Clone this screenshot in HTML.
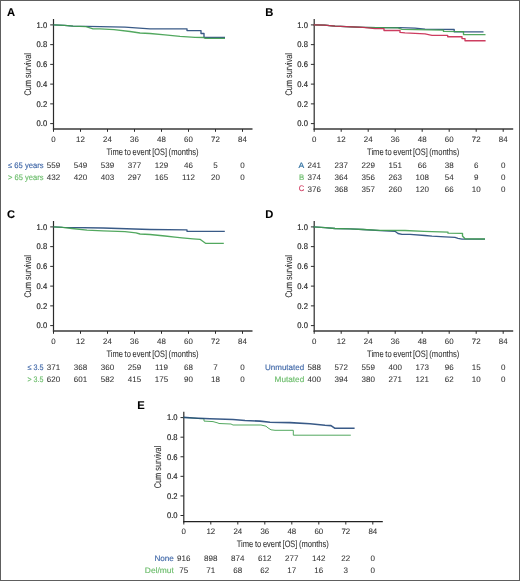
<!DOCTYPE html>
<html><head><meta charset="utf-8"><style>
html,body{margin:0;padding:0;background:#fff;}
svg{display:block;will-change:transform;}
text{font-family:"Liberation Sans", sans-serif;text-rendering:geometricPrecision;}
</style></head><body>
<svg width="520" height="581" viewBox="0 0 520 581">
<rect x="0" y="0" width="520" height="581" fill="#fff"/>
<g transform="translate(0,0)">
<text x="7" y="16.4" font-size="11.2" font-weight="bold" fill="#000" stroke="#000" stroke-width="0.1">A</text>
<line x1="53.5" y1="19" x2="53.5" y2="129.7" stroke="#2b2b2b" stroke-width="1.2"/>
<line x1="50.2" y1="24.90" x2="53.5" y2="24.90" stroke="#2b2b2b" stroke-width="1"/>
<text x="47.2" y="27.70" font-size="8.3" text-anchor="end" fill="#262626" stroke="#262626" stroke-width="0.18" textLength="10.6" lengthAdjust="spacingAndGlyphs">1.0</text>
<line x1="50.2" y1="44.64" x2="53.5" y2="44.64" stroke="#2b2b2b" stroke-width="1"/>
<text x="47.2" y="47.44" font-size="8.3" text-anchor="end" fill="#262626" stroke="#262626" stroke-width="0.18" textLength="10.6" lengthAdjust="spacingAndGlyphs">0.8</text>
<line x1="50.2" y1="64.38" x2="53.5" y2="64.38" stroke="#2b2b2b" stroke-width="1"/>
<text x="47.2" y="67.18" font-size="8.3" text-anchor="end" fill="#262626" stroke="#262626" stroke-width="0.18" textLength="10.6" lengthAdjust="spacingAndGlyphs">0.6</text>
<line x1="50.2" y1="84.12" x2="53.5" y2="84.12" stroke="#2b2b2b" stroke-width="1"/>
<text x="47.2" y="86.92" font-size="8.3" text-anchor="end" fill="#262626" stroke="#262626" stroke-width="0.18" textLength="10.6" lengthAdjust="spacingAndGlyphs">0.4</text>
<line x1="50.2" y1="103.86" x2="53.5" y2="103.86" stroke="#2b2b2b" stroke-width="1"/>
<text x="47.2" y="106.66" font-size="8.3" text-anchor="end" fill="#262626" stroke="#262626" stroke-width="0.18" textLength="10.6" lengthAdjust="spacingAndGlyphs">0.2</text>
<line x1="50.2" y1="123.60" x2="53.5" y2="123.60" stroke="#2b2b2b" stroke-width="1"/>
<text x="47.2" y="126.40" font-size="8.3" text-anchor="end" fill="#262626" stroke="#262626" stroke-width="0.18" textLength="10.6" lengthAdjust="spacingAndGlyphs">0.0</text>
<line x1="52.9" y1="129" x2="252.5" y2="129" stroke="#3a3a3a" stroke-width="1.6"/>
<line x1="53.5" y1="129" x2="53.5" y2="131.8" stroke="#2b2b2b" stroke-width="1"/>
<text x="53.5" y="141.8" font-size="7.9" text-anchor="middle" fill="#333333" stroke="#333" stroke-width="0.08">0</text>
<line x1="80.5" y1="129" x2="80.5" y2="131.8" stroke="#2b2b2b" stroke-width="1"/>
<text x="80.5" y="141.8" font-size="7.9" text-anchor="middle" fill="#333333" stroke="#333" stroke-width="0.08">12</text>
<line x1="107.5" y1="129" x2="107.5" y2="131.8" stroke="#2b2b2b" stroke-width="1"/>
<text x="107.5" y="141.8" font-size="7.9" text-anchor="middle" fill="#333333" stroke="#333" stroke-width="0.08">24</text>
<line x1="134.5" y1="129" x2="134.5" y2="131.8" stroke="#2b2b2b" stroke-width="1"/>
<text x="134.5" y="141.8" font-size="7.9" text-anchor="middle" fill="#333333" stroke="#333" stroke-width="0.08">36</text>
<line x1="161.5" y1="129" x2="161.5" y2="131.8" stroke="#2b2b2b" stroke-width="1"/>
<text x="161.5" y="141.8" font-size="7.9" text-anchor="middle" fill="#333333" stroke="#333" stroke-width="0.08">48</text>
<line x1="188.5" y1="129" x2="188.5" y2="131.8" stroke="#2b2b2b" stroke-width="1"/>
<text x="188.5" y="141.8" font-size="7.9" text-anchor="middle" fill="#333333" stroke="#333" stroke-width="0.08">60</text>
<line x1="215.5" y1="129" x2="215.5" y2="131.8" stroke="#2b2b2b" stroke-width="1"/>
<text x="215.5" y="141.8" font-size="7.9" text-anchor="middle" fill="#333333" stroke="#333" stroke-width="0.08">72</text>
<line x1="242.5" y1="129" x2="242.5" y2="131.8" stroke="#2b2b2b" stroke-width="1"/>
<text x="242.5" y="141.8" font-size="7.9" text-anchor="middle" fill="#333333" stroke="#333" stroke-width="0.08">84</text>
<text x="106.4" y="154.5" font-size="9.4" fill="#333333" textLength="16.5" lengthAdjust="spacingAndGlyphs" stroke="#333" stroke-width="0.08">Time</text>
<text x="124.6" y="154.5" font-size="9.4" fill="#333333" textLength="6.3" lengthAdjust="spacingAndGlyphs" stroke="#333" stroke-width="0.08">to</text>
<text x="132.6" y="154.5" font-size="9.4" fill="#333333" textLength="18.3" lengthAdjust="spacingAndGlyphs" stroke="#333" stroke-width="0.08">event</text>
<text x="152.3" y="154.5" font-size="9.4" fill="#333333" textLength="14.7" lengthAdjust="spacingAndGlyphs" stroke="#333" stroke-width="0.08">[OS]</text>
<text x="168.6" y="154.5" font-size="9.4" fill="#333333" textLength="30.0" lengthAdjust="spacingAndGlyphs" stroke="#333" stroke-width="0.08">(months)</text>
<text transform="translate(31,95.6) rotate(-90)" x="0" y="0" font-size="9.6" fill="#333333" textLength="42.5" lengthAdjust="spacingAndGlyphs" stroke="#333" stroke-width="0.08">Cum survival</text>
<polyline points="53.5,24.8 64.5,25.3 73.0,26.2 100.0,26.7 125.0,27.2 150.0,28.8 187.0,28.8 187.0,30.6 201.0,30.6 201.0,33.5 204.0,33.5 204.0,37.5 225.0,37.5" fill="none" stroke="#24487a" stroke-width="1.35" stroke-linejoin="round" stroke-opacity="0.9"/>
<polyline points="53.5,24.8 64.5,25.3 73.0,26.2 86.0,26.6 93.0,28.8 100.0,28.8 114.0,29.6 130.0,31.5 140.0,33.0 150.0,33.5 165.0,34.9 180.0,36.3 195.0,37.3 204.0,37.5 205.0,38.3 225.0,38.3" fill="none" stroke="#3f9f4e" stroke-width="1.35" stroke-linejoin="round" stroke-opacity="0.9"/>
<text x="43.5" y="168.20" font-size="8.0" text-anchor="end" fill="#4068a8" textLength="35.5" lengthAdjust="spacingAndGlyphs" stroke="#4068a8" stroke-width="0.15">≤ 65 years</text>
<text x="53.5" y="168.40" font-size="8.0" text-anchor="middle" fill="#333333" stroke="#333333" stroke-width="0.06">559</text>
<text x="80.5" y="168.40" font-size="8.0" text-anchor="middle" fill="#333333" stroke="#333333" stroke-width="0.06">549</text>
<text x="107.5" y="168.40" font-size="8.0" text-anchor="middle" fill="#333333" stroke="#333333" stroke-width="0.06">539</text>
<text x="134.5" y="168.40" font-size="8.0" text-anchor="middle" fill="#333333" stroke="#333333" stroke-width="0.06">377</text>
<text x="161.5" y="168.40" font-size="8.0" text-anchor="middle" fill="#333333" stroke="#333333" stroke-width="0.06">129</text>
<text x="188.5" y="168.40" font-size="8.0" text-anchor="middle" fill="#333333" stroke="#333333" stroke-width="0.06">46</text>
<text x="215.5" y="168.40" font-size="8.0" text-anchor="middle" fill="#333333" stroke="#333333" stroke-width="0.06">5</text>
<text x="242.5" y="168.40" font-size="8.0" text-anchor="middle" fill="#333333" stroke="#333333" stroke-width="0.06">0</text>
<text x="43.5" y="179.82" font-size="8.0" text-anchor="end" fill="#6cbd6c" textLength="35.5" lengthAdjust="spacingAndGlyphs" stroke="#6cbd6c" stroke-width="0.15">&gt; 65 years</text>
<text x="53.5" y="180.02" font-size="8.0" text-anchor="middle" fill="#333333" stroke="#333333" stroke-width="0.06">432</text>
<text x="80.5" y="180.02" font-size="8.0" text-anchor="middle" fill="#333333" stroke="#333333" stroke-width="0.06">420</text>
<text x="107.5" y="180.02" font-size="8.0" text-anchor="middle" fill="#333333" stroke="#333333" stroke-width="0.06">403</text>
<text x="134.5" y="180.02" font-size="8.0" text-anchor="middle" fill="#333333" stroke="#333333" stroke-width="0.06">297</text>
<text x="161.5" y="180.02" font-size="8.0" text-anchor="middle" fill="#333333" stroke="#333333" stroke-width="0.06">165</text>
<text x="188.5" y="180.02" font-size="8.0" text-anchor="middle" fill="#333333" stroke="#333333" stroke-width="0.06">112</text>
<text x="215.5" y="180.02" font-size="8.0" text-anchor="middle" fill="#333333" stroke="#333333" stroke-width="0.06">20</text>
<text x="242.5" y="180.02" font-size="8.0" text-anchor="middle" fill="#333333" stroke="#333333" stroke-width="0.06">0</text>
</g>
<g transform="translate(260.7,0)">
<text x="4.5" y="16.4" font-size="11.2" font-weight="bold" fill="#000" stroke="#000" stroke-width="0.1">B</text>
<line x1="53.5" y1="19" x2="53.5" y2="129.7" stroke="#2b2b2b" stroke-width="1.2"/>
<line x1="50.2" y1="24.90" x2="53.5" y2="24.90" stroke="#2b2b2b" stroke-width="1"/>
<text x="47.2" y="27.70" font-size="8.3" text-anchor="end" fill="#262626" stroke="#262626" stroke-width="0.18" textLength="10.6" lengthAdjust="spacingAndGlyphs">1.0</text>
<line x1="50.2" y1="44.64" x2="53.5" y2="44.64" stroke="#2b2b2b" stroke-width="1"/>
<text x="47.2" y="47.44" font-size="8.3" text-anchor="end" fill="#262626" stroke="#262626" stroke-width="0.18" textLength="10.6" lengthAdjust="spacingAndGlyphs">0.8</text>
<line x1="50.2" y1="64.38" x2="53.5" y2="64.38" stroke="#2b2b2b" stroke-width="1"/>
<text x="47.2" y="67.18" font-size="8.3" text-anchor="end" fill="#262626" stroke="#262626" stroke-width="0.18" textLength="10.6" lengthAdjust="spacingAndGlyphs">0.6</text>
<line x1="50.2" y1="84.12" x2="53.5" y2="84.12" stroke="#2b2b2b" stroke-width="1"/>
<text x="47.2" y="86.92" font-size="8.3" text-anchor="end" fill="#262626" stroke="#262626" stroke-width="0.18" textLength="10.6" lengthAdjust="spacingAndGlyphs">0.4</text>
<line x1="50.2" y1="103.86" x2="53.5" y2="103.86" stroke="#2b2b2b" stroke-width="1"/>
<text x="47.2" y="106.66" font-size="8.3" text-anchor="end" fill="#262626" stroke="#262626" stroke-width="0.18" textLength="10.6" lengthAdjust="spacingAndGlyphs">0.2</text>
<line x1="50.2" y1="123.60" x2="53.5" y2="123.60" stroke="#2b2b2b" stroke-width="1"/>
<text x="47.2" y="126.40" font-size="8.3" text-anchor="end" fill="#262626" stroke="#262626" stroke-width="0.18" textLength="10.6" lengthAdjust="spacingAndGlyphs">0.0</text>
<line x1="52.9" y1="129" x2="252.5" y2="129" stroke="#3a3a3a" stroke-width="1.6"/>
<line x1="53.5" y1="129" x2="53.5" y2="131.8" stroke="#2b2b2b" stroke-width="1"/>
<text x="53.5" y="141.8" font-size="7.9" text-anchor="middle" fill="#333333" stroke="#333" stroke-width="0.08">0</text>
<line x1="80.5" y1="129" x2="80.5" y2="131.8" stroke="#2b2b2b" stroke-width="1"/>
<text x="80.5" y="141.8" font-size="7.9" text-anchor="middle" fill="#333333" stroke="#333" stroke-width="0.08">12</text>
<line x1="107.5" y1="129" x2="107.5" y2="131.8" stroke="#2b2b2b" stroke-width="1"/>
<text x="107.5" y="141.8" font-size="7.9" text-anchor="middle" fill="#333333" stroke="#333" stroke-width="0.08">24</text>
<line x1="134.5" y1="129" x2="134.5" y2="131.8" stroke="#2b2b2b" stroke-width="1"/>
<text x="134.5" y="141.8" font-size="7.9" text-anchor="middle" fill="#333333" stroke="#333" stroke-width="0.08">36</text>
<line x1="161.5" y1="129" x2="161.5" y2="131.8" stroke="#2b2b2b" stroke-width="1"/>
<text x="161.5" y="141.8" font-size="7.9" text-anchor="middle" fill="#333333" stroke="#333" stroke-width="0.08">48</text>
<line x1="188.5" y1="129" x2="188.5" y2="131.8" stroke="#2b2b2b" stroke-width="1"/>
<text x="188.5" y="141.8" font-size="7.9" text-anchor="middle" fill="#333333" stroke="#333" stroke-width="0.08">60</text>
<line x1="215.5" y1="129" x2="215.5" y2="131.8" stroke="#2b2b2b" stroke-width="1"/>
<text x="215.5" y="141.8" font-size="7.9" text-anchor="middle" fill="#333333" stroke="#333" stroke-width="0.08">72</text>
<line x1="242.5" y1="129" x2="242.5" y2="131.8" stroke="#2b2b2b" stroke-width="1"/>
<text x="242.5" y="141.8" font-size="7.9" text-anchor="middle" fill="#333333" stroke="#333" stroke-width="0.08">84</text>
<text x="106.4" y="154.5" font-size="9.4" fill="#333333" textLength="16.5" lengthAdjust="spacingAndGlyphs" stroke="#333" stroke-width="0.08">Time</text>
<text x="124.6" y="154.5" font-size="9.4" fill="#333333" textLength="6.3" lengthAdjust="spacingAndGlyphs" stroke="#333" stroke-width="0.08">to</text>
<text x="132.6" y="154.5" font-size="9.4" fill="#333333" textLength="18.3" lengthAdjust="spacingAndGlyphs" stroke="#333" stroke-width="0.08">event</text>
<text x="152.3" y="154.5" font-size="9.4" fill="#333333" textLength="14.7" lengthAdjust="spacingAndGlyphs" stroke="#333" stroke-width="0.08">[OS]</text>
<text x="168.6" y="154.5" font-size="9.4" fill="#333333" textLength="30.0" lengthAdjust="spacingAndGlyphs" stroke="#333" stroke-width="0.08">(months)</text>
<text transform="translate(31,95.6) rotate(-90)" x="0" y="0" font-size="9.6" fill="#333333" textLength="42.5" lengthAdjust="spacingAndGlyphs" stroke="#333" stroke-width="0.08">Cum survival</text>
<polyline points="52.8,24.8 63.8,25.2 74.3,26.2 102.3,27.3 116.3,27.6 139.3,27.7 154.3,28.2 164.3,29.2 193.5,29.5 193.5,31.8 222.8,31.9" fill="none" stroke="#24487a" stroke-width="1.35" stroke-linejoin="round" stroke-opacity="0.9"/>
<polyline points="52.8,24.8 63.8,25.2 74.3,26.2 102.3,27.3 116.3,27.6 137.3,27.9 141.3,29.4 182.8,30.2 182.8,31.4 202.8,31.6 202.8,34.6 224.8,34.6" fill="none" stroke="#3f9f4e" stroke-width="1.35" stroke-linejoin="round" stroke-opacity="0.9"/>
<polyline points="52.8,24.8 63.8,25.2 74.3,26.2 102.3,27.3 114.3,28.6 123.3,28.6 123.3,30.5 139.3,30.5 139.3,32.4 144.3,32.9 164.3,33.9 171.3,35.3 187.0,35.4 187.0,36.7 201.3,36.7 201.3,38.6 204.3,38.6 204.3,40.7 224.9,40.7" fill="none" stroke="#c8284f" stroke-width="1.35" stroke-linejoin="round" stroke-opacity="0.9"/>
<text x="43.5" y="168.20" font-size="8.0" text-anchor="end" fill="#2f6fa0" textLength="5.7" lengthAdjust="spacingAndGlyphs" stroke="#2f6fa0" stroke-width="0.15">A</text>
<text x="53.5" y="168.40" font-size="8.0" text-anchor="middle" fill="#333333" stroke="#333333" stroke-width="0.06">241</text>
<text x="80.5" y="168.40" font-size="8.0" text-anchor="middle" fill="#333333" stroke="#333333" stroke-width="0.06">237</text>
<text x="107.5" y="168.40" font-size="8.0" text-anchor="middle" fill="#333333" stroke="#333333" stroke-width="0.06">229</text>
<text x="134.5" y="168.40" font-size="8.0" text-anchor="middle" fill="#333333" stroke="#333333" stroke-width="0.06">151</text>
<text x="161.5" y="168.40" font-size="8.0" text-anchor="middle" fill="#333333" stroke="#333333" stroke-width="0.06">66</text>
<text x="188.5" y="168.40" font-size="8.0" text-anchor="middle" fill="#333333" stroke="#333333" stroke-width="0.06">38</text>
<text x="215.5" y="168.40" font-size="8.0" text-anchor="middle" fill="#333333" stroke="#333333" stroke-width="0.06">6</text>
<text x="242.5" y="168.40" font-size="8.0" text-anchor="middle" fill="#333333" stroke="#333333" stroke-width="0.06">0</text>
<text x="43.5" y="179.82" font-size="8.0" text-anchor="end" fill="#6cbd6c" textLength="5.2" lengthAdjust="spacingAndGlyphs" stroke="#6cbd6c" stroke-width="0.15">B</text>
<text x="53.5" y="180.02" font-size="8.0" text-anchor="middle" fill="#333333" stroke="#333333" stroke-width="0.06">374</text>
<text x="80.5" y="180.02" font-size="8.0" text-anchor="middle" fill="#333333" stroke="#333333" stroke-width="0.06">364</text>
<text x="107.5" y="180.02" font-size="8.0" text-anchor="middle" fill="#333333" stroke="#333333" stroke-width="0.06">356</text>
<text x="134.5" y="180.02" font-size="8.0" text-anchor="middle" fill="#333333" stroke="#333333" stroke-width="0.06">263</text>
<text x="161.5" y="180.02" font-size="8.0" text-anchor="middle" fill="#333333" stroke="#333333" stroke-width="0.06">108</text>
<text x="188.5" y="180.02" font-size="8.0" text-anchor="middle" fill="#333333" stroke="#333333" stroke-width="0.06">54</text>
<text x="215.5" y="180.02" font-size="8.0" text-anchor="middle" fill="#333333" stroke="#333333" stroke-width="0.06">9</text>
<text x="242.5" y="180.02" font-size="8.0" text-anchor="middle" fill="#333333" stroke="#333333" stroke-width="0.06">0</text>
<text x="43.5" y="191.44" font-size="8.0" text-anchor="end" fill="#d0395f" textLength="5.5" lengthAdjust="spacingAndGlyphs" stroke="#d0395f" stroke-width="0.15">C</text>
<text x="53.5" y="191.64" font-size="8.0" text-anchor="middle" fill="#333333" stroke="#333333" stroke-width="0.06">376</text>
<text x="80.5" y="191.64" font-size="8.0" text-anchor="middle" fill="#333333" stroke="#333333" stroke-width="0.06">368</text>
<text x="107.5" y="191.64" font-size="8.0" text-anchor="middle" fill="#333333" stroke="#333333" stroke-width="0.06">357</text>
<text x="134.5" y="191.64" font-size="8.0" text-anchor="middle" fill="#333333" stroke="#333333" stroke-width="0.06">260</text>
<text x="161.5" y="191.64" font-size="8.0" text-anchor="middle" fill="#333333" stroke="#333333" stroke-width="0.06">120</text>
<text x="188.5" y="191.64" font-size="8.0" text-anchor="middle" fill="#333333" stroke="#333333" stroke-width="0.06">66</text>
<text x="215.5" y="191.64" font-size="8.0" text-anchor="middle" fill="#333333" stroke="#333333" stroke-width="0.06">10</text>
<text x="242.5" y="191.64" font-size="8.0" text-anchor="middle" fill="#333333" stroke="#333333" stroke-width="0.06">0</text>
</g>
<g transform="translate(0,202)">
<text x="7" y="16.4" font-size="11.2" font-weight="bold" fill="#000" stroke="#000" stroke-width="0.1">C</text>
<line x1="53.5" y1="19" x2="53.5" y2="129.7" stroke="#2b2b2b" stroke-width="1.2"/>
<line x1="50.2" y1="24.90" x2="53.5" y2="24.90" stroke="#2b2b2b" stroke-width="1"/>
<text x="47.2" y="27.70" font-size="8.3" text-anchor="end" fill="#262626" stroke="#262626" stroke-width="0.18" textLength="10.6" lengthAdjust="spacingAndGlyphs">1.0</text>
<line x1="50.2" y1="44.64" x2="53.5" y2="44.64" stroke="#2b2b2b" stroke-width="1"/>
<text x="47.2" y="47.44" font-size="8.3" text-anchor="end" fill="#262626" stroke="#262626" stroke-width="0.18" textLength="10.6" lengthAdjust="spacingAndGlyphs">0.8</text>
<line x1="50.2" y1="64.38" x2="53.5" y2="64.38" stroke="#2b2b2b" stroke-width="1"/>
<text x="47.2" y="67.18" font-size="8.3" text-anchor="end" fill="#262626" stroke="#262626" stroke-width="0.18" textLength="10.6" lengthAdjust="spacingAndGlyphs">0.6</text>
<line x1="50.2" y1="84.12" x2="53.5" y2="84.12" stroke="#2b2b2b" stroke-width="1"/>
<text x="47.2" y="86.92" font-size="8.3" text-anchor="end" fill="#262626" stroke="#262626" stroke-width="0.18" textLength="10.6" lengthAdjust="spacingAndGlyphs">0.4</text>
<line x1="50.2" y1="103.86" x2="53.5" y2="103.86" stroke="#2b2b2b" stroke-width="1"/>
<text x="47.2" y="106.66" font-size="8.3" text-anchor="end" fill="#262626" stroke="#262626" stroke-width="0.18" textLength="10.6" lengthAdjust="spacingAndGlyphs">0.2</text>
<line x1="50.2" y1="123.60" x2="53.5" y2="123.60" stroke="#2b2b2b" stroke-width="1"/>
<text x="47.2" y="126.40" font-size="8.3" text-anchor="end" fill="#262626" stroke="#262626" stroke-width="0.18" textLength="10.6" lengthAdjust="spacingAndGlyphs">0.0</text>
<line x1="52.9" y1="129" x2="252.5" y2="129" stroke="#3a3a3a" stroke-width="1.6"/>
<line x1="53.5" y1="129" x2="53.5" y2="131.8" stroke="#2b2b2b" stroke-width="1"/>
<text x="53.5" y="141.8" font-size="7.9" text-anchor="middle" fill="#333333" stroke="#333" stroke-width="0.08">0</text>
<line x1="80.5" y1="129" x2="80.5" y2="131.8" stroke="#2b2b2b" stroke-width="1"/>
<text x="80.5" y="141.8" font-size="7.9" text-anchor="middle" fill="#333333" stroke="#333" stroke-width="0.08">12</text>
<line x1="107.5" y1="129" x2="107.5" y2="131.8" stroke="#2b2b2b" stroke-width="1"/>
<text x="107.5" y="141.8" font-size="7.9" text-anchor="middle" fill="#333333" stroke="#333" stroke-width="0.08">24</text>
<line x1="134.5" y1="129" x2="134.5" y2="131.8" stroke="#2b2b2b" stroke-width="1"/>
<text x="134.5" y="141.8" font-size="7.9" text-anchor="middle" fill="#333333" stroke="#333" stroke-width="0.08">36</text>
<line x1="161.5" y1="129" x2="161.5" y2="131.8" stroke="#2b2b2b" stroke-width="1"/>
<text x="161.5" y="141.8" font-size="7.9" text-anchor="middle" fill="#333333" stroke="#333" stroke-width="0.08">48</text>
<line x1="188.5" y1="129" x2="188.5" y2="131.8" stroke="#2b2b2b" stroke-width="1"/>
<text x="188.5" y="141.8" font-size="7.9" text-anchor="middle" fill="#333333" stroke="#333" stroke-width="0.08">60</text>
<line x1="215.5" y1="129" x2="215.5" y2="131.8" stroke="#2b2b2b" stroke-width="1"/>
<text x="215.5" y="141.8" font-size="7.9" text-anchor="middle" fill="#333333" stroke="#333" stroke-width="0.08">72</text>
<line x1="242.5" y1="129" x2="242.5" y2="131.8" stroke="#2b2b2b" stroke-width="1"/>
<text x="242.5" y="141.8" font-size="7.9" text-anchor="middle" fill="#333333" stroke="#333" stroke-width="0.08">84</text>
<text x="106.4" y="154.5" font-size="9.4" fill="#333333" textLength="16.5" lengthAdjust="spacingAndGlyphs" stroke="#333" stroke-width="0.08">Time</text>
<text x="124.6" y="154.5" font-size="9.4" fill="#333333" textLength="6.3" lengthAdjust="spacingAndGlyphs" stroke="#333" stroke-width="0.08">to</text>
<text x="132.6" y="154.5" font-size="9.4" fill="#333333" textLength="18.3" lengthAdjust="spacingAndGlyphs" stroke="#333" stroke-width="0.08">event</text>
<text x="152.3" y="154.5" font-size="9.4" fill="#333333" textLength="14.7" lengthAdjust="spacingAndGlyphs" stroke="#333" stroke-width="0.08">[OS]</text>
<text x="168.6" y="154.5" font-size="9.4" fill="#333333" textLength="30.0" lengthAdjust="spacingAndGlyphs" stroke="#333" stroke-width="0.08">(months)</text>
<text transform="translate(31,95.6) rotate(-90)" x="0" y="0" font-size="9.6" fill="#333333" textLength="42.5" lengthAdjust="spacingAndGlyphs" stroke="#333" stroke-width="0.08">Cum survival</text>
<polyline points="53.5,24.8 62.6,25.3 103.0,26.0 150.0,27.5 187.0,27.9 187.0,29.3 224.8,29.3" fill="none" stroke="#24487a" stroke-width="1.35" stroke-linejoin="round" stroke-opacity="0.9"/>
<polyline points="53.5,24.8 62.6,25.3 72.0,26.5 87.0,28.2 103.0,28.8 125.0,29.6 136.0,30.8 140.0,32.0 150.0,32.5 165.0,34.0 175.0,35.2 182.0,35.9 193.0,36.8 200.0,37.3 205.5,41.3 223.8,41.3" fill="none" stroke="#3f9f4e" stroke-width="1.35" stroke-linejoin="round" stroke-opacity="0.9"/>
<text x="43.5" y="168.20" font-size="8.0" text-anchor="end" fill="#4068a8" textLength="16" lengthAdjust="spacingAndGlyphs" stroke="#4068a8" stroke-width="0.15">≤ 3.5</text>
<text x="53.5" y="168.40" font-size="8.0" text-anchor="middle" fill="#333333" stroke="#333333" stroke-width="0.06">371</text>
<text x="80.5" y="168.40" font-size="8.0" text-anchor="middle" fill="#333333" stroke="#333333" stroke-width="0.06">368</text>
<text x="107.5" y="168.40" font-size="8.0" text-anchor="middle" fill="#333333" stroke="#333333" stroke-width="0.06">360</text>
<text x="134.5" y="168.40" font-size="8.0" text-anchor="middle" fill="#333333" stroke="#333333" stroke-width="0.06">259</text>
<text x="161.5" y="168.40" font-size="8.0" text-anchor="middle" fill="#333333" stroke="#333333" stroke-width="0.06">119</text>
<text x="188.5" y="168.40" font-size="8.0" text-anchor="middle" fill="#333333" stroke="#333333" stroke-width="0.06">68</text>
<text x="215.5" y="168.40" font-size="8.0" text-anchor="middle" fill="#333333" stroke="#333333" stroke-width="0.06">7</text>
<text x="242.5" y="168.40" font-size="8.0" text-anchor="middle" fill="#333333" stroke="#333333" stroke-width="0.06">0</text>
<text x="43.5" y="179.82" font-size="8.0" text-anchor="end" fill="#6cbd6c" textLength="16" lengthAdjust="spacingAndGlyphs" stroke="#6cbd6c" stroke-width="0.15">&gt; 3.5</text>
<text x="53.5" y="180.02" font-size="8.0" text-anchor="middle" fill="#333333" stroke="#333333" stroke-width="0.06">620</text>
<text x="80.5" y="180.02" font-size="8.0" text-anchor="middle" fill="#333333" stroke="#333333" stroke-width="0.06">601</text>
<text x="107.5" y="180.02" font-size="8.0" text-anchor="middle" fill="#333333" stroke="#333333" stroke-width="0.06">582</text>
<text x="134.5" y="180.02" font-size="8.0" text-anchor="middle" fill="#333333" stroke="#333333" stroke-width="0.06">415</text>
<text x="161.5" y="180.02" font-size="8.0" text-anchor="middle" fill="#333333" stroke="#333333" stroke-width="0.06">175</text>
<text x="188.5" y="180.02" font-size="8.0" text-anchor="middle" fill="#333333" stroke="#333333" stroke-width="0.06">90</text>
<text x="215.5" y="180.02" font-size="8.0" text-anchor="middle" fill="#333333" stroke="#333333" stroke-width="0.06">18</text>
<text x="242.5" y="180.02" font-size="8.0" text-anchor="middle" fill="#333333" stroke="#333333" stroke-width="0.06">0</text>
</g>
<g transform="translate(260.7,202)">
<text x="4.5" y="16.4" font-size="11.2" font-weight="bold" fill="#000" stroke="#000" stroke-width="0.1">D</text>
<line x1="53.5" y1="19" x2="53.5" y2="129.7" stroke="#2b2b2b" stroke-width="1.2"/>
<line x1="50.2" y1="24.90" x2="53.5" y2="24.90" stroke="#2b2b2b" stroke-width="1"/>
<text x="47.2" y="27.70" font-size="8.3" text-anchor="end" fill="#262626" stroke="#262626" stroke-width="0.18" textLength="10.6" lengthAdjust="spacingAndGlyphs">1.0</text>
<line x1="50.2" y1="44.64" x2="53.5" y2="44.64" stroke="#2b2b2b" stroke-width="1"/>
<text x="47.2" y="47.44" font-size="8.3" text-anchor="end" fill="#262626" stroke="#262626" stroke-width="0.18" textLength="10.6" lengthAdjust="spacingAndGlyphs">0.8</text>
<line x1="50.2" y1="64.38" x2="53.5" y2="64.38" stroke="#2b2b2b" stroke-width="1"/>
<text x="47.2" y="67.18" font-size="8.3" text-anchor="end" fill="#262626" stroke="#262626" stroke-width="0.18" textLength="10.6" lengthAdjust="spacingAndGlyphs">0.6</text>
<line x1="50.2" y1="84.12" x2="53.5" y2="84.12" stroke="#2b2b2b" stroke-width="1"/>
<text x="47.2" y="86.92" font-size="8.3" text-anchor="end" fill="#262626" stroke="#262626" stroke-width="0.18" textLength="10.6" lengthAdjust="spacingAndGlyphs">0.4</text>
<line x1="50.2" y1="103.86" x2="53.5" y2="103.86" stroke="#2b2b2b" stroke-width="1"/>
<text x="47.2" y="106.66" font-size="8.3" text-anchor="end" fill="#262626" stroke="#262626" stroke-width="0.18" textLength="10.6" lengthAdjust="spacingAndGlyphs">0.2</text>
<line x1="50.2" y1="123.60" x2="53.5" y2="123.60" stroke="#2b2b2b" stroke-width="1"/>
<text x="47.2" y="126.40" font-size="8.3" text-anchor="end" fill="#262626" stroke="#262626" stroke-width="0.18" textLength="10.6" lengthAdjust="spacingAndGlyphs">0.0</text>
<line x1="52.9" y1="129" x2="252.5" y2="129" stroke="#3a3a3a" stroke-width="1.6"/>
<line x1="53.5" y1="129" x2="53.5" y2="131.8" stroke="#2b2b2b" stroke-width="1"/>
<text x="53.5" y="141.8" font-size="7.9" text-anchor="middle" fill="#333333" stroke="#333" stroke-width="0.08">0</text>
<line x1="80.5" y1="129" x2="80.5" y2="131.8" stroke="#2b2b2b" stroke-width="1"/>
<text x="80.5" y="141.8" font-size="7.9" text-anchor="middle" fill="#333333" stroke="#333" stroke-width="0.08">12</text>
<line x1="107.5" y1="129" x2="107.5" y2="131.8" stroke="#2b2b2b" stroke-width="1"/>
<text x="107.5" y="141.8" font-size="7.9" text-anchor="middle" fill="#333333" stroke="#333" stroke-width="0.08">24</text>
<line x1="134.5" y1="129" x2="134.5" y2="131.8" stroke="#2b2b2b" stroke-width="1"/>
<text x="134.5" y="141.8" font-size="7.9" text-anchor="middle" fill="#333333" stroke="#333" stroke-width="0.08">36</text>
<line x1="161.5" y1="129" x2="161.5" y2="131.8" stroke="#2b2b2b" stroke-width="1"/>
<text x="161.5" y="141.8" font-size="7.9" text-anchor="middle" fill="#333333" stroke="#333" stroke-width="0.08">48</text>
<line x1="188.5" y1="129" x2="188.5" y2="131.8" stroke="#2b2b2b" stroke-width="1"/>
<text x="188.5" y="141.8" font-size="7.9" text-anchor="middle" fill="#333333" stroke="#333" stroke-width="0.08">60</text>
<line x1="215.5" y1="129" x2="215.5" y2="131.8" stroke="#2b2b2b" stroke-width="1"/>
<text x="215.5" y="141.8" font-size="7.9" text-anchor="middle" fill="#333333" stroke="#333" stroke-width="0.08">72</text>
<line x1="242.5" y1="129" x2="242.5" y2="131.8" stroke="#2b2b2b" stroke-width="1"/>
<text x="242.5" y="141.8" font-size="7.9" text-anchor="middle" fill="#333333" stroke="#333" stroke-width="0.08">84</text>
<text x="106.4" y="154.5" font-size="9.4" fill="#333333" textLength="16.5" lengthAdjust="spacingAndGlyphs" stroke="#333" stroke-width="0.08">Time</text>
<text x="124.6" y="154.5" font-size="9.4" fill="#333333" textLength="6.3" lengthAdjust="spacingAndGlyphs" stroke="#333" stroke-width="0.08">to</text>
<text x="132.6" y="154.5" font-size="9.4" fill="#333333" textLength="18.3" lengthAdjust="spacingAndGlyphs" stroke="#333" stroke-width="0.08">event</text>
<text x="152.3" y="154.5" font-size="9.4" fill="#333333" textLength="14.7" lengthAdjust="spacingAndGlyphs" stroke="#333" stroke-width="0.08">[OS]</text>
<text x="168.6" y="154.5" font-size="9.4" fill="#333333" textLength="30.0" lengthAdjust="spacingAndGlyphs" stroke="#333" stroke-width="0.08">(months)</text>
<text transform="translate(31,95.6) rotate(-90)" x="0" y="0" font-size="9.6" fill="#333333" textLength="42.5" lengthAdjust="spacingAndGlyphs" stroke="#333" stroke-width="0.08">Cum survival</text>
<polyline points="52.8,24.8 64.3,25.6 74.3,26.5 89.3,26.9 102.3,27.5 119.3,28.7 134.3,29.3 137.3,31.5 141.3,32.3 149.3,32.3 164.3,33.5 171.3,34.2 184.3,34.9 194.3,35.4 197.3,36.3 201.3,37.1 224.3,37.1" fill="none" stroke="#24487a" stroke-width="1.35" stroke-linejoin="round" stroke-opacity="0.9"/>
<polyline points="52.8,24.8 64.3,25.6 74.3,26.5 89.3,26.9 102.3,27.5 119.3,28.3 144.3,28.5 163.3,29.3 187.3,30.1 187.3,31.2 201.8,31.3 201.8,34.0 204.3,36.8 224.3,37.0" fill="none" stroke="#3f9f4e" stroke-width="1.35" stroke-linejoin="round" stroke-opacity="0.9"/>
<text x="43.5" y="168.20" font-size="8.0" text-anchor="end" fill="#4068a8" textLength="39.2" lengthAdjust="spacingAndGlyphs" stroke="#4068a8" stroke-width="0.15">Unmutated</text>
<text x="53.5" y="168.40" font-size="8.0" text-anchor="middle" fill="#333333" stroke="#333333" stroke-width="0.06">588</text>
<text x="80.5" y="168.40" font-size="8.0" text-anchor="middle" fill="#333333" stroke="#333333" stroke-width="0.06">572</text>
<text x="107.5" y="168.40" font-size="8.0" text-anchor="middle" fill="#333333" stroke="#333333" stroke-width="0.06">559</text>
<text x="134.5" y="168.40" font-size="8.0" text-anchor="middle" fill="#333333" stroke="#333333" stroke-width="0.06">400</text>
<text x="161.5" y="168.40" font-size="8.0" text-anchor="middle" fill="#333333" stroke="#333333" stroke-width="0.06">173</text>
<text x="188.5" y="168.40" font-size="8.0" text-anchor="middle" fill="#333333" stroke="#333333" stroke-width="0.06">96</text>
<text x="215.5" y="168.40" font-size="8.0" text-anchor="middle" fill="#333333" stroke="#333333" stroke-width="0.06">15</text>
<text x="242.5" y="168.40" font-size="8.0" text-anchor="middle" fill="#333333" stroke="#333333" stroke-width="0.06">0</text>
<text x="43.5" y="179.82" font-size="8.0" text-anchor="end" fill="#6cbd6c" textLength="29.6" lengthAdjust="spacingAndGlyphs" stroke="#6cbd6c" stroke-width="0.15">Mutated</text>
<text x="53.5" y="180.02" font-size="8.0" text-anchor="middle" fill="#333333" stroke="#333333" stroke-width="0.06">400</text>
<text x="80.5" y="180.02" font-size="8.0" text-anchor="middle" fill="#333333" stroke="#333333" stroke-width="0.06">394</text>
<text x="107.5" y="180.02" font-size="8.0" text-anchor="middle" fill="#333333" stroke="#333333" stroke-width="0.06">380</text>
<text x="134.5" y="180.02" font-size="8.0" text-anchor="middle" fill="#333333" stroke="#333333" stroke-width="0.06">271</text>
<text x="161.5" y="180.02" font-size="8.0" text-anchor="middle" fill="#333333" stroke="#333333" stroke-width="0.06">121</text>
<text x="188.5" y="180.02" font-size="8.0" text-anchor="middle" fill="#333333" stroke="#333333" stroke-width="0.06">62</text>
<text x="215.5" y="180.02" font-size="8.0" text-anchor="middle" fill="#333333" stroke="#333333" stroke-width="0.06">10</text>
<text x="242.5" y="180.02" font-size="8.0" text-anchor="middle" fill="#333333" stroke="#333333" stroke-width="0.06">0</text>
</g>
<g transform="translate(130.3,392.7)">
<text x="7" y="16.4" font-size="11.2" font-weight="bold" fill="#000" stroke="#000" stroke-width="0.1">E</text>
<line x1="53.5" y1="19" x2="53.5" y2="129.7" stroke="#2b2b2b" stroke-width="1.2"/>
<line x1="50.2" y1="24.90" x2="53.5" y2="24.90" stroke="#2b2b2b" stroke-width="1"/>
<text x="47.2" y="27.70" font-size="8.3" text-anchor="end" fill="#262626" stroke="#262626" stroke-width="0.18" textLength="10.6" lengthAdjust="spacingAndGlyphs">1.0</text>
<line x1="50.2" y1="44.48" x2="53.5" y2="44.48" stroke="#2b2b2b" stroke-width="1"/>
<text x="47.2" y="47.28" font-size="8.3" text-anchor="end" fill="#262626" stroke="#262626" stroke-width="0.18" textLength="10.6" lengthAdjust="spacingAndGlyphs">0.8</text>
<line x1="50.2" y1="64.06" x2="53.5" y2="64.06" stroke="#2b2b2b" stroke-width="1"/>
<text x="47.2" y="66.86" font-size="8.3" text-anchor="end" fill="#262626" stroke="#262626" stroke-width="0.18" textLength="10.6" lengthAdjust="spacingAndGlyphs">0.6</text>
<line x1="50.2" y1="83.64" x2="53.5" y2="83.64" stroke="#2b2b2b" stroke-width="1"/>
<text x="47.2" y="86.44" font-size="8.3" text-anchor="end" fill="#262626" stroke="#262626" stroke-width="0.18" textLength="10.6" lengthAdjust="spacingAndGlyphs">0.4</text>
<line x1="50.2" y1="103.22" x2="53.5" y2="103.22" stroke="#2b2b2b" stroke-width="1"/>
<text x="47.2" y="106.02" font-size="8.3" text-anchor="end" fill="#262626" stroke="#262626" stroke-width="0.18" textLength="10.6" lengthAdjust="spacingAndGlyphs">0.2</text>
<line x1="50.2" y1="122.80" x2="53.5" y2="122.80" stroke="#2b2b2b" stroke-width="1"/>
<text x="47.2" y="125.60" font-size="8.3" text-anchor="end" fill="#262626" stroke="#262626" stroke-width="0.18" textLength="10.6" lengthAdjust="spacingAndGlyphs">0.0</text>
<line x1="52.9" y1="129" x2="252.5" y2="129" stroke="#222" stroke-width="1.2"/>
<line x1="53.5" y1="129" x2="53.5" y2="131.8" stroke="#2b2b2b" stroke-width="1"/>
<text x="53.5" y="141.8" font-size="7.9" text-anchor="middle" fill="#333333" stroke="#333" stroke-width="0.08">0</text>
<line x1="80.5" y1="129" x2="80.5" y2="131.8" stroke="#2b2b2b" stroke-width="1"/>
<text x="80.5" y="141.8" font-size="7.9" text-anchor="middle" fill="#333333" stroke="#333" stroke-width="0.08">12</text>
<line x1="107.5" y1="129" x2="107.5" y2="131.8" stroke="#2b2b2b" stroke-width="1"/>
<text x="107.5" y="141.8" font-size="7.9" text-anchor="middle" fill="#333333" stroke="#333" stroke-width="0.08">24</text>
<line x1="134.5" y1="129" x2="134.5" y2="131.8" stroke="#2b2b2b" stroke-width="1"/>
<text x="134.5" y="141.8" font-size="7.9" text-anchor="middle" fill="#333333" stroke="#333" stroke-width="0.08">36</text>
<line x1="161.5" y1="129" x2="161.5" y2="131.8" stroke="#2b2b2b" stroke-width="1"/>
<text x="161.5" y="141.8" font-size="7.9" text-anchor="middle" fill="#333333" stroke="#333" stroke-width="0.08">48</text>
<line x1="188.5" y1="129" x2="188.5" y2="131.8" stroke="#2b2b2b" stroke-width="1"/>
<text x="188.5" y="141.8" font-size="7.9" text-anchor="middle" fill="#333333" stroke="#333" stroke-width="0.08">60</text>
<line x1="215.5" y1="129" x2="215.5" y2="131.8" stroke="#2b2b2b" stroke-width="1"/>
<text x="215.5" y="141.8" font-size="7.9" text-anchor="middle" fill="#333333" stroke="#333" stroke-width="0.08">72</text>
<line x1="242.5" y1="129" x2="242.5" y2="131.8" stroke="#2b2b2b" stroke-width="1"/>
<text x="242.5" y="141.8" font-size="7.9" text-anchor="middle" fill="#333333" stroke="#333" stroke-width="0.08">84</text>
<text x="106.4" y="154.5" font-size="9.4" fill="#333333" textLength="16.5" lengthAdjust="spacingAndGlyphs" stroke="#333" stroke-width="0.08">Time</text>
<text x="124.6" y="154.5" font-size="9.4" fill="#333333" textLength="6.3" lengthAdjust="spacingAndGlyphs" stroke="#333" stroke-width="0.08">to</text>
<text x="132.6" y="154.5" font-size="9.4" fill="#333333" textLength="18.3" lengthAdjust="spacingAndGlyphs" stroke="#333" stroke-width="0.08">event</text>
<text x="152.3" y="154.5" font-size="9.4" fill="#333333" textLength="14.7" lengthAdjust="spacingAndGlyphs" stroke="#333" stroke-width="0.08">[OS]</text>
<text x="168.6" y="154.5" font-size="9.4" fill="#333333" textLength="30.0" lengthAdjust="spacingAndGlyphs" stroke="#333" stroke-width="0.08">(months)</text>
<text transform="translate(31,95.6) rotate(-90)" x="0" y="0" font-size="9.6" fill="#333333" textLength="42.5" lengthAdjust="spacingAndGlyphs" stroke="#333" stroke-width="0.08">Cum survival</text>
<polyline points="53.2,24.7 62.7,25.3 69.7,26.0 73.7,26.0 73.7,28.4 82.7,28.9 87.7,30.3 88.7,30.8 100.7,31.3 102.7,32.3 130.7,32.3 135.7,33.5 137.7,35.2 140.7,37.1 144.7,37.6 163.0,37.6 163.0,42.5 220.5,42.5" fill="none" stroke="#3f9f4e" stroke-width="1.0" stroke-linejoin="round" stroke-opacity="0.9"/>
<polyline points="53.2,24.7 62.7,25.3 79.7,26.0 102.7,26.8 114.7,27.8 129.7,28.4 139.7,29.5 159.7,29.9 179.7,31.1 194.7,32.5 200.7,32.9 204.7,35.6 224.3,35.6" fill="none" stroke="#24487a" stroke-width="1.6" stroke-linejoin="round" stroke-opacity="0.9"/>
<text x="43.5" y="168.20" font-size="8.0" text-anchor="end" fill="#4068a8" textLength="19.4" lengthAdjust="spacingAndGlyphs" stroke="#4068a8" stroke-width="0.15">None</text>
<text x="53.5" y="168.40" font-size="8.0" text-anchor="middle" fill="#333333" stroke="#333333" stroke-width="0.06">916</text>
<text x="80.5" y="168.40" font-size="8.0" text-anchor="middle" fill="#333333" stroke="#333333" stroke-width="0.06">898</text>
<text x="107.5" y="168.40" font-size="8.0" text-anchor="middle" fill="#333333" stroke="#333333" stroke-width="0.06">874</text>
<text x="134.5" y="168.40" font-size="8.0" text-anchor="middle" fill="#333333" stroke="#333333" stroke-width="0.06">612</text>
<text x="161.5" y="168.40" font-size="8.0" text-anchor="middle" fill="#333333" stroke="#333333" stroke-width="0.06">277</text>
<text x="188.5" y="168.40" font-size="8.0" text-anchor="middle" fill="#333333" stroke="#333333" stroke-width="0.06">142</text>
<text x="215.5" y="168.40" font-size="8.0" text-anchor="middle" fill="#333333" stroke="#333333" stroke-width="0.06">22</text>
<text x="242.5" y="168.40" font-size="8.0" text-anchor="middle" fill="#333333" stroke="#333333" stroke-width="0.06">0</text>
<text x="43.5" y="179.82" font-size="8.0" text-anchor="end" fill="#6cbd6c" textLength="29" lengthAdjust="spacingAndGlyphs" stroke="#6cbd6c" stroke-width="0.15">Del/mut</text>
<text x="53.5" y="180.02" font-size="8.0" text-anchor="middle" fill="#333333" stroke="#333333" stroke-width="0.06">75</text>
<text x="80.5" y="180.02" font-size="8.0" text-anchor="middle" fill="#333333" stroke="#333333" stroke-width="0.06">71</text>
<text x="107.5" y="180.02" font-size="8.0" text-anchor="middle" fill="#333333" stroke="#333333" stroke-width="0.06">68</text>
<text x="134.5" y="180.02" font-size="8.0" text-anchor="middle" fill="#333333" stroke="#333333" stroke-width="0.06">62</text>
<text x="161.5" y="180.02" font-size="8.0" text-anchor="middle" fill="#333333" stroke="#333333" stroke-width="0.06">17</text>
<text x="188.5" y="180.02" font-size="8.0" text-anchor="middle" fill="#333333" stroke="#333333" stroke-width="0.06">16</text>
<text x="215.5" y="180.02" font-size="8.0" text-anchor="middle" fill="#333333" stroke="#333333" stroke-width="0.06">3</text>
<text x="242.5" y="180.02" font-size="8.0" text-anchor="middle" fill="#333333" stroke="#333333" stroke-width="0.06">0</text>
</g>
<rect x="0.5" y="0.5" width="519" height="580" fill="none" stroke="#5e5e5e" stroke-width="1"/>
</svg>
</body></html>
